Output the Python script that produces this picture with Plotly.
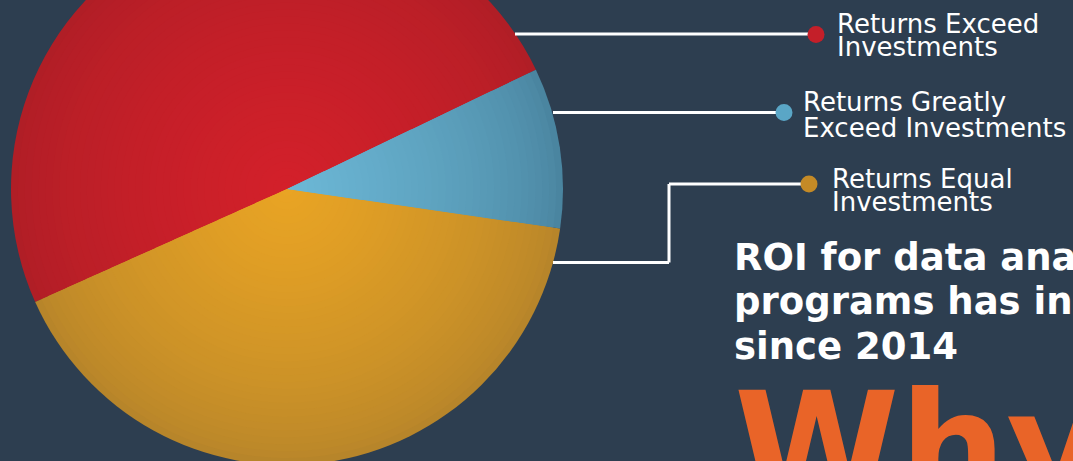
import plotly.graph_objects as go

# ---------------- data ----------------
categories = ["Returns Exceed Investments", "Returns Equal Investments", "Returns Greatly Exceed Investments"]
shares = [49.6, 41.0, 9.4]          # percent of respondents
center_colors = ["#d3202a", "#e9a424", "#6cb8d6"]
edge_colors = ["#b01e26", "#b7852a", "#4a85a0"]

label_lines = {
    "Returns Exceed Investments": ["Returns Exceed", "Investments"],
    "Returns Greatly Exceed Investments": ["Returns Greatly", "Exceed Investments"],
    "Returns Equal Investments": ["Returns Equal", "Investments"],
}
title_lines = ["ROI for data analytics", "programs has increased", "since 2014"]
big_word = "Why"

# ---------------- geometry helpers (pixel -> paper) ----------------
W = 1073
T = 100                 # part of the figure hidden above the viewport
H = 461 + T + 10
BG = "#2d3e50"

def px(x):
    return x / W

def py(y):
    return 1 - (y + T) / H

cx, cy, R = 287, 189, 276
start_angle = 25.6      # degrees, math convention, where the first slice begins (ccw)
# plotly (counterclockwise) puts the first slice clockwise of `rotation`
rotation = 90 - start_angle - 360 * shares[0] / sum(shares)

def lerp(c1, c2, t):
    a = [int(c1[i:i + 2], 16) for i in (1, 3, 5)]
    b = [int(c2[i:i + 2], 16) for i in (1, 3, 5)]
    return "#%02x%02x%02x" % tuple(round(a[k] + (b[k] - a[k]) * t) for k in range(3))

fig = go.Figure()

N = 40
for i in range(N):
    r = R * (1 - i / N)
    t = (i / (N - 1)) ** 0.7
    cols = [lerp(e, c, t) for e, c in zip(edge_colors, center_colors)]
    fig.add_trace(go.Pie(
        labels=categories, values=shares, sort=False, direction="counterclockwise",
        rotation=rotation,
        marker=dict(colors=cols, line=dict(width=0)),
        textinfo="none", hoverinfo="label+percent", showlegend=False,
        domain=dict(x=[px(cx - r), px(cx + r)], y=[py(cy + r), py(cy - r)]),
    ))

shapes = []
annotations = []
LINE = dict(color="white", width=3)

def hline(x0, x1, y):
    shapes.append(dict(type="line", xref="paper", yref="paper",
                       x0=px(x0), x1=px(x1), y0=py(y), y1=py(y), line=LINE))

def vline(x, y0, y1):
    shapes.append(dict(type="line", xref="paper", yref="paper",
                       x0=px(x), x1=px(x), y0=py(y0), y1=py(y1), line=LINE))

def dot(x, y, col, rr=8.5):
    shapes.append(dict(type="circle", xref="paper", yref="paper",
                       x0=px(x - rr), x1=px(x + rr), y0=py(y + rr), y1=py(y - rr),
                       fillcolor=col, line=dict(color=col, width=0)))

def text(x, baseline, s, size, color="white", bold=False, family="DejaVu Sans"):
    annotations.append(dict(
        xref="paper", yref="paper", x=px(x - 3), y=py(baseline - 0.36 * size),
        xanchor="left", yanchor="middle", showarrow=False,
        text=("<b>%s</b>" % s) if bold else s,
        font=dict(family=family, size=size, color=color)))

# connector lines
hline(515, 812, 34)
hline(553, 780, 112.5)
hline(553, 669, 262.5)
vline(669, 262.5, 184)
hline(669, 805, 184)

# dots
dot(816, 34.5, "#c41f29")
dot(784, 112.5, "#5aa6c6")
dot(809, 184, "#c48a26")

# slice labels
LS = 26
text(838, 33, label_lines[categories[0]][0], LS)
text(838, 56, label_lines[categories[0]][1], LS)
text(804, 111, label_lines[categories[2]][0], LS)
text(804, 137, label_lines[categories[2]][1], LS)
text(833, 188, label_lines[categories[1]][0], LS)
text(833, 211, label_lines[categories[1]][1], LS)

# headline
TS = 37
text(735, 271, title_lines[0], TS, bold=True)
text(735, 315, title_lines[1], TS, bold=True)
text(735, 360, title_lines[2], TS, bold=True)

# big word
text(735, 501, big_word, 150, color="#e96428", bold=True)

fig.update_layout(
    width=W, height=H,
    margin=dict(l=0, r=0, t=0, b=0),
    paper_bgcolor=BG, plot_bgcolor=BG,
    shapes=shapes, annotations=annotations,
)

post = ("var gd=document.getElementById('{plot_id}');"
        "gd.style.marginTop='-%dpx';"
        "document.body.style.margin='0';"
        "document.body.style.background='%s';"
        "document.body.style.overflow='hidden';"
        "document.documentElement.style.overflow='hidden';" % (T, BG))

fig.write_html("out.html", post_script=post)
